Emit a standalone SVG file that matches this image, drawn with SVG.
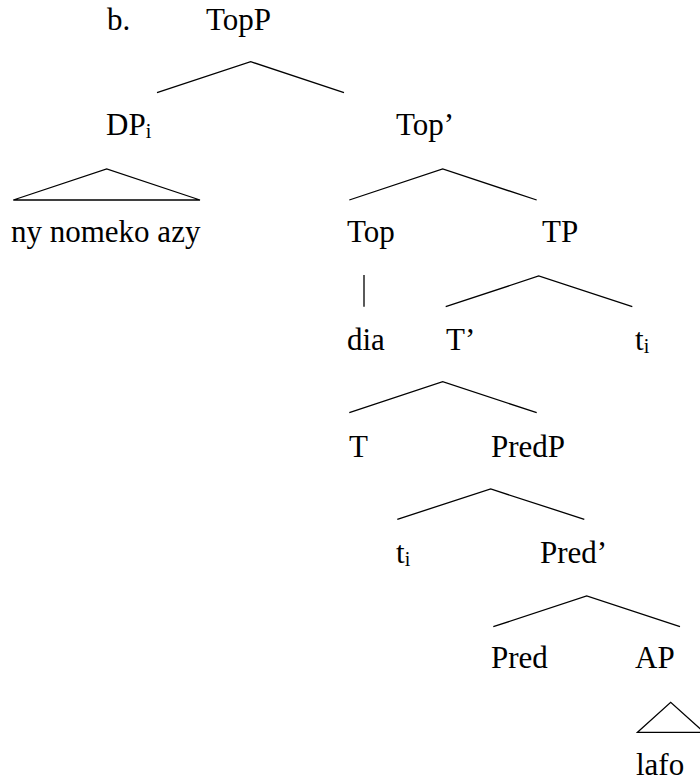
<svg xmlns="http://www.w3.org/2000/svg" width="700" height="782" viewBox="0 0 700 782">
<style>
text{font-family:"Liberation Serif","Tinos","DejaVu Serif","Noto Serif","Times New Roman",Times,serif;font-size:31px;fill:#000}
.sub{font-size:20px}
.br{fill:none;stroke:#000;stroke-width:1.3}
</style>
<rect width="700" height="782" fill="#fff"/>
<g id="connectors">
<polyline class="br" points="157,92.7 250.7,61.7 344,92.7"/>
<polygon class="br" points="13.3,200 106.7,169 200,200"/>
<polyline class="br" points="349.3,200 442.7,169 536.7,200"/>
<line class="br" x1="364" y1="275" x2="364" y2="306.7"/>
<polyline class="br" points="445.7,306.7 538.7,276 632.3,306.7"/>
<polyline class="br" points="349.3,412.7 442.7,381.7 536.7,412.7"/>
<polyline class="br" points="397.3,519.3 490.7,489 584.3,519.3"/>
<polyline class="br" points="493.3,626.7 586.7,596 680,626.7"/>
<polygon class="br" points="637.5,732.3 670.7,702.3 704,732.3"/>
</g>
<g id="label-b"><text x="107" y="30">b.</text></g>
<g id="TopP"><text x="206" y="30">TopP</text></g>
<g id="DPi"><text x="106" y="135">DP<tspan class="sub" dy="3">i</tspan></text></g>
<g id="TopBar"><text x="396" y="135">Top’</text></g>
<g id="DP-yield"><text x="11" y="242">ny nomeko azy</text></g>
<g id="Top"><text x="347" y="242">Top</text></g>
<g id="TP"><text x="542" y="242">TP</text></g>
<g id="dia"><text x="347" y="350">dia</text></g>
<g id="TBar"><text x="446" y="350">T’</text></g>
<g id="ti-1"><text x="635" y="350">t<tspan class="sub" dy="3">i</tspan></text></g>
<g id="T"><text x="349" y="457">T</text></g>
<g id="PredP"><text x="491" y="457">PredP</text></g>
<g id="ti-2"><text x="396" y="563">t<tspan class="sub" dy="3">i</tspan></text></g>
<g id="PredBar"><text x="540" y="563">Pred’</text></g>
<g id="Pred"><text x="491" y="668">Pred</text></g>
<g id="AP"><text x="635" y="668">AP</text></g>
<g id="lafo"><text x="636" y="775">lafo</text></g>
</svg>
